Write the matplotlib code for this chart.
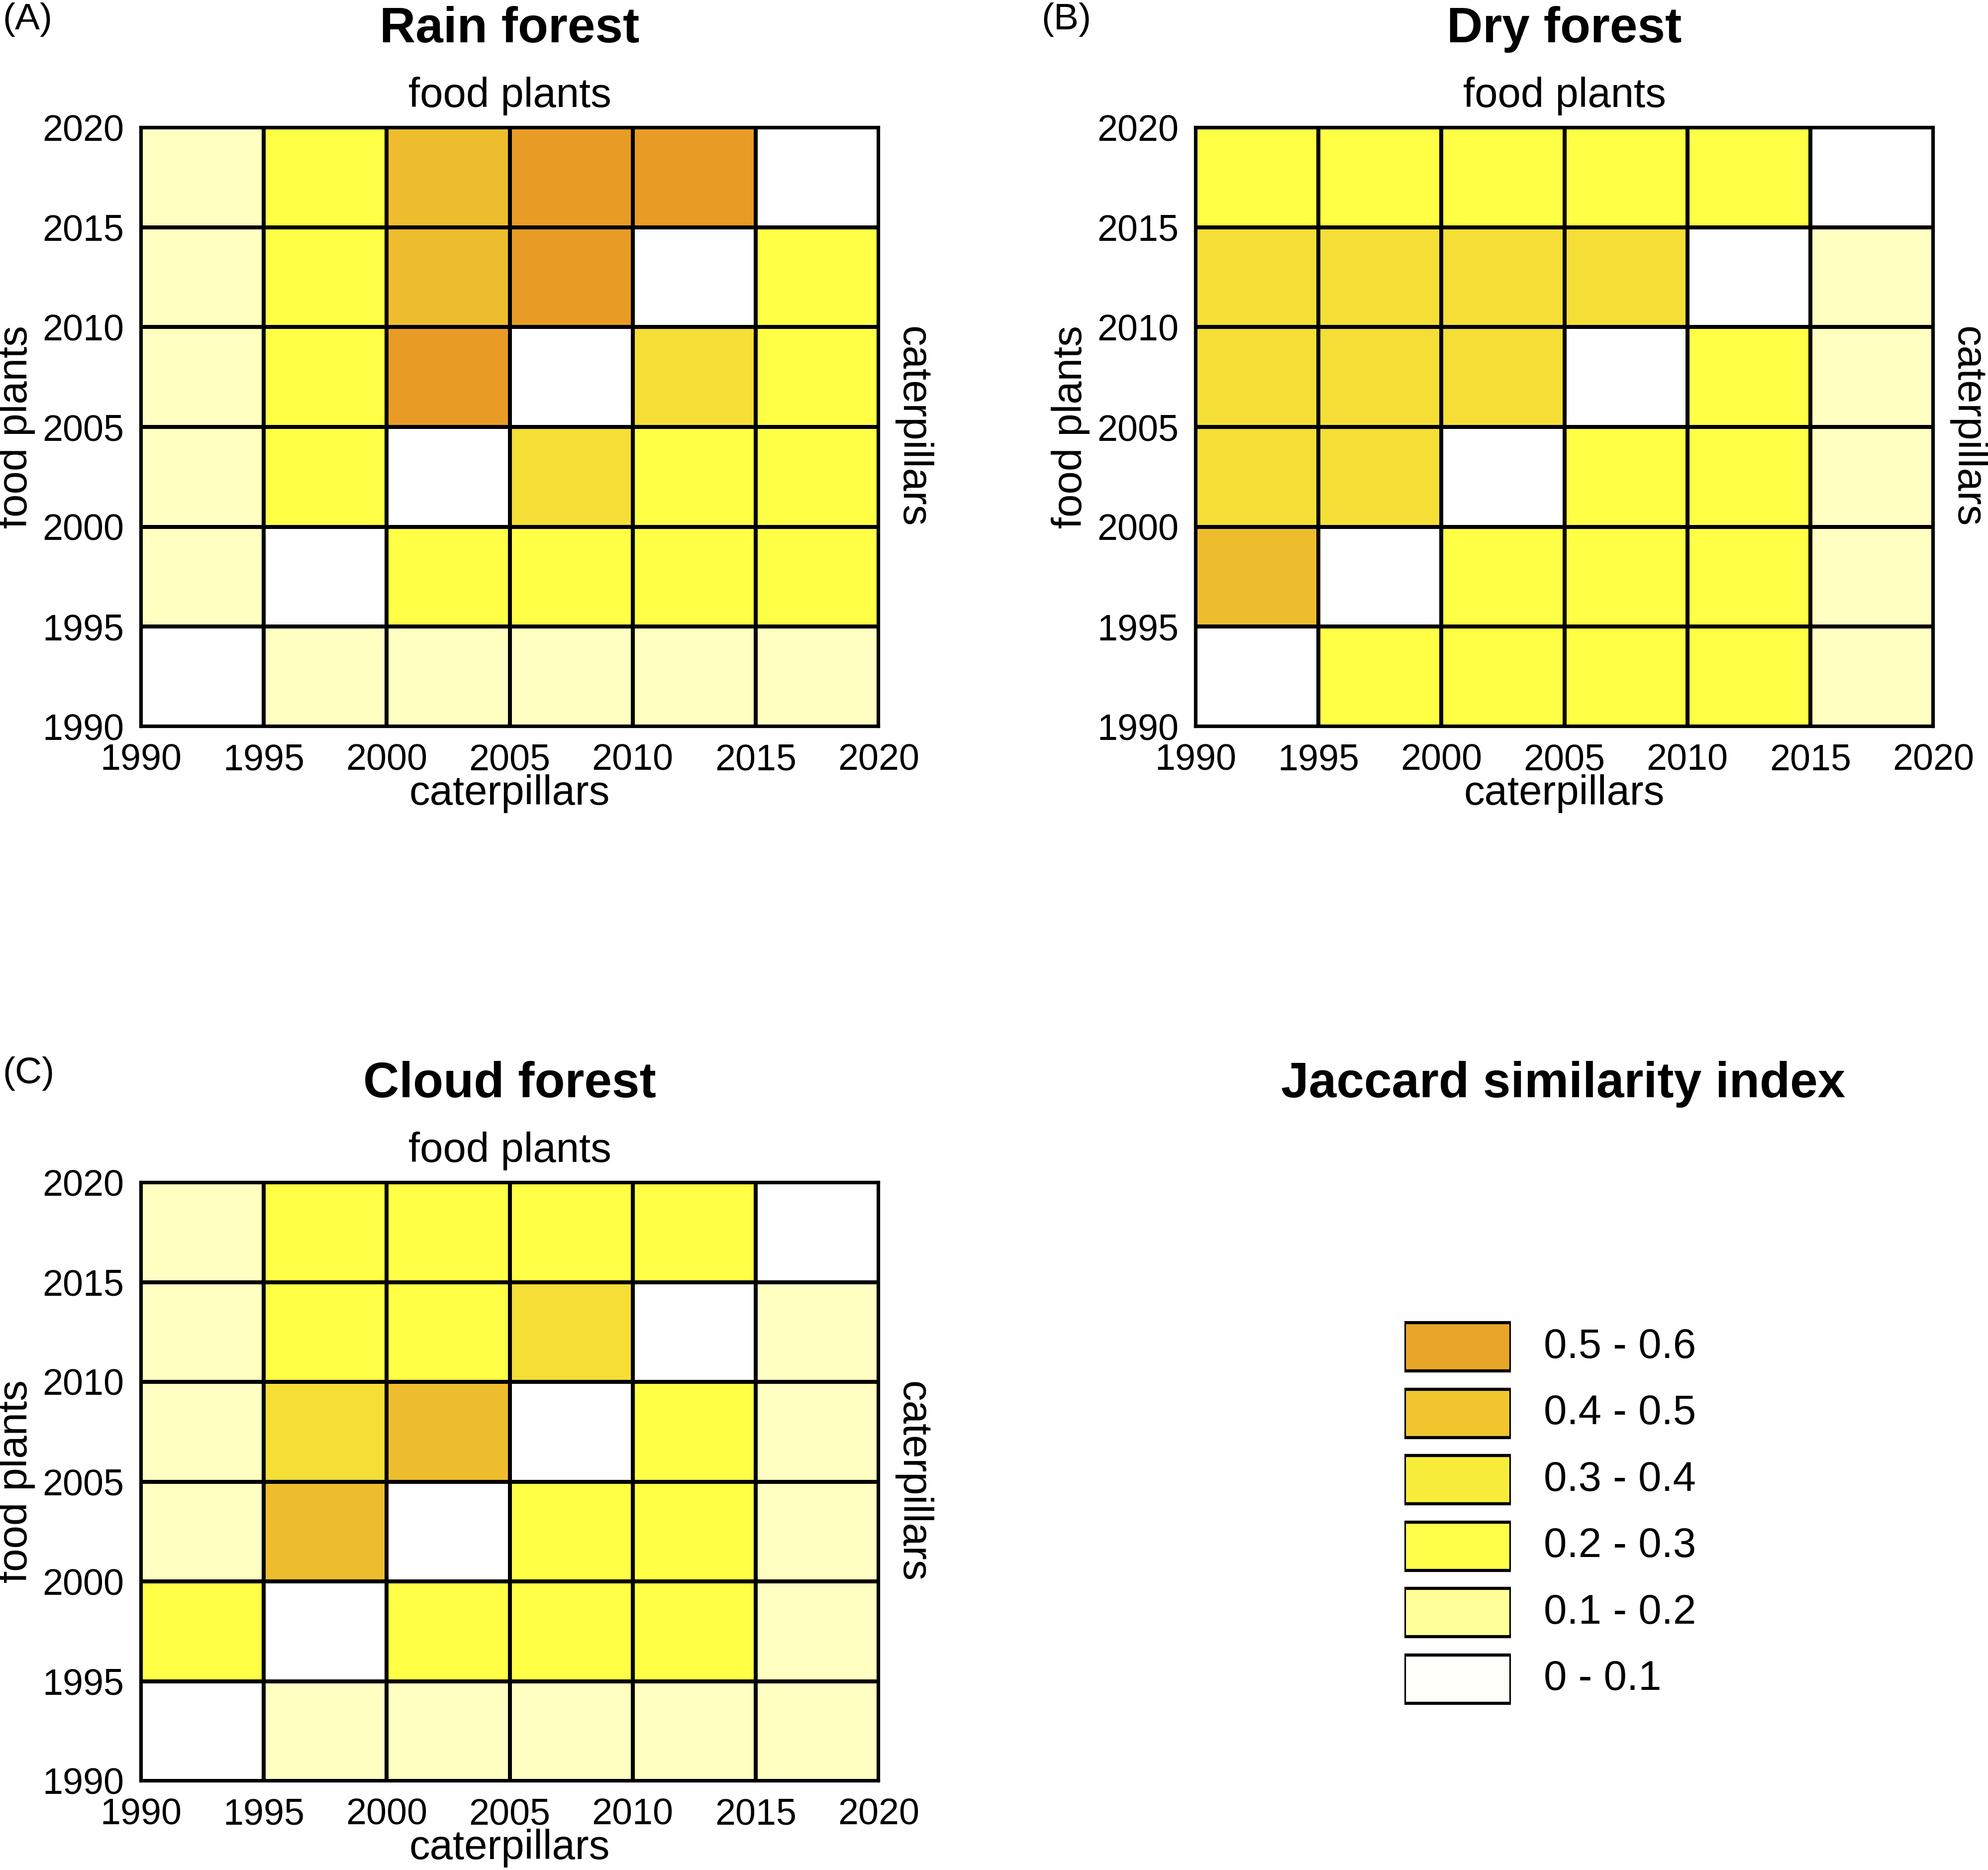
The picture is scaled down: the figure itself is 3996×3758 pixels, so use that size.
"""Jaccard similarity heatmaps: caterpillars vs food plants per forest type."""
import matplotlib
matplotlib.use("Agg")
import matplotlib.pyplot as plt
import numpy as np
from matplotlib import font_manager
from matplotlib.colors import ListedColormap, BoundaryNorm

plt.rcParams["font.family"] = ["Liberation Sans", "DejaVu Sans"]

# period edges (both axes)
years = [1990, 1995, 2000, 2005, 2010, 2015, 2020]

# Jaccard index per cell, rows from top (2015-2020 food plants) to bottom (1990-1995),
# columns caterpillars 1990-1995 ... 2015-2020 (values = class mid-points)
rain_forest = [
    [0.15, 0.25, 0.45, 0.55, 0.55, 0.05],
    [0.15, 0.25, 0.45, 0.55, 0.05, 0.25],
    [0.15, 0.25, 0.55, 0.05, 0.35, 0.25],
    [0.15, 0.25, 0.05, 0.35, 0.25, 0.25],
    [0.15, 0.05, 0.25, 0.25, 0.25, 0.25],
    [0.05, 0.15, 0.15, 0.15, 0.15, 0.15],
]
dry_forest = [
    [0.25, 0.25, 0.25, 0.25, 0.25, 0.05],
    [0.35, 0.35, 0.35, 0.35, 0.05, 0.15],
    [0.35, 0.35, 0.35, 0.05, 0.25, 0.15],
    [0.35, 0.35, 0.05, 0.25, 0.25, 0.15],
    [0.45, 0.05, 0.25, 0.25, 0.25, 0.15],
    [0.05, 0.25, 0.25, 0.25, 0.25, 0.15],
]
cloud_forest = [
    [0.15, 0.25, 0.25, 0.25, 0.25, 0.05],
    [0.15, 0.25, 0.25, 0.35, 0.05, 0.15],
    [0.15, 0.35, 0.45, 0.05, 0.25, 0.15],
    [0.15, 0.45, 0.05, 0.25, 0.25, 0.15],
    [0.25, 0.05, 0.25, 0.25, 0.25, 0.15],
    [0.05, 0.15, 0.15, 0.15, 0.15, 0.15],
]

class_bounds = [0, 0.1, 0.2, 0.3, 0.4, 0.5, 0.6]
cell_colors = ["#FFFFFF", "#FFFFC2", "#FFFF45", "#F5DE35", "#EEBD2D", "#E89C25"]
legend_colors = ["#E8A628", "#F1C52E", "#F8EC3A", "#FFFF4A", "#FFFF99", "#FFFFFA"]
legend_labels = ["0.5 - 0.6", "0.4 - 0.5", "0.3 - 0.4", "0.2 - 0.3", "0.1 - 0.2", "0 - 0.1"]

panels = [
    ("(A)", "Rain forest", rain_forest),
    ("(B)", "Dry forest", dry_forest),
    ("(C)", "Cloud forest", cloud_forest),
]

# condensed face for the year ticks if it is there
names = {f.name for f in font_manager.fontManager.ttflist}
if "Liberation Sans Narrow" in names:
    tick_font, tick_size = "Liberation Sans Narrow", 60
else:
    tick_font, tick_size = "Liberation Sans", 53

W, H = 3996, 3758
fig = plt.figure(figsize=(W / 100, H / 100), dpi=100)

cmap = ListedColormap(cell_colors)
norm = BoundaryNorm(class_bounds, cmap.N)
LW = 4.5


def px_axes(x0, y0, x1, y1):
    return fig.add_axes([x0 / W, 1 - y1 / H, (x1 - x0) / W, (y1 - y0) / H])


boxes = [(283, 256, 1766, 1460), (2403, 256, 3886, 1460), (283, 2376, 1766, 3579)]
tag_pos = [(5, 40), (2093, 40), (5, 2157)]

for (tag, title, grid), box, tp in zip(panels, boxes, tag_pos):
    ax = px_axes(*box)
    z = np.flipud(np.array(grid))
    ax.pcolormesh(years, years, z, cmap=cmap, norm=norm,
                  edgecolors="black", linewidth=LW)
    ax.set_xlim(years[0], years[-1])
    ax.set_ylim(years[0], years[-1])
    ax.set_xticks(years)
    ax.set_yticks(years)
    ax.tick_params(length=0, labelsize=tick_size, pad=24)
    for lab in ax.get_xticklabels() + ax.get_yticklabels():
        lab.set_family(tick_font)
    for s in ax.spines.values():
        s.set_linewidth(LW)
    ax.text(0.5, 1.164, title, transform=ax.transAxes, ha="center", va="center",
            fontsize=72, fontweight="bold")
    ax.text(0.5, 1.052, "food plants", transform=ax.transAxes, ha="center",
            va="center", fontsize=60)
    ax.text(0.5, -0.112, "caterpillars", transform=ax.transAxes, ha="center",
            va="center", fontsize=60)
    ax.text(-0.169, 0.5, "food plants", transform=ax.transAxes, ha="center",
            va="center", rotation=90, fontsize=60)
    ax.text(1.0465, 0.5, "caterpillars", transform=ax.transAxes, ha="center",
            va="center", rotation=270, fontsize=60)
    fig.text(tp[0] / W, 1 - tp[1] / H, tag, ha="left", va="center", fontsize=54)

# legend panel
fig.text(3142 / W, 1 - 2179 / H, "Jaccard similarity index", ha="center",
         va="center", fontsize=72, fontweight="bold")
lax = px_axes(2823, 2640, 3037, 3441)
pos = np.arange(len(legend_labels))
lax.barh(pos, [1] * len(pos), height=0.73, left=0, color=legend_colors,
         edgecolor="black", linewidth=LW)
lax.set_xlim(0, 1)
lax.set_ylim(len(pos) - 0.5, -0.5)
lax.axis("off")
for p, lab in zip(pos, legend_labels):
    lax.text(1.31, p, lab, ha="left", va="center", fontsize=60, clip_on=False)

fig.savefig("out.png", dpi=100, facecolor="white")
